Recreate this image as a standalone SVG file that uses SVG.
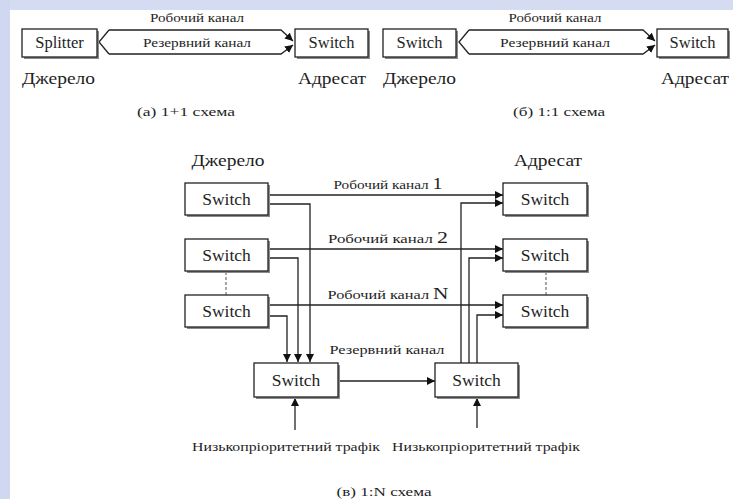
<svg xmlns="http://www.w3.org/2000/svg" width="733" height="499" viewBox="0 0 733 499" font-family="'Liberation Serif','DejaVu Serif','Times New Roman',serif">
<defs>
<marker id="ah" viewBox="0 0 10 10" refX="10" refY="5" markerWidth="8" markerHeight="8" markerUnits="userSpaceOnUse" orient="auto"><path d="M0,0 L10,5 L0,10 z" fill="#111"/></marker>
<style>
text{font-family:'Liberation Serif','DejaVu Serif','Times New Roman',serif;fill:#1e1e1e}
.box{fill:#fff;stroke:#222;stroke-width:1.3}
.sh{fill:#8a8a8a}
.ln{fill:none;stroke:#222;stroke-width:1.3}
.arr{fill:none;stroke:#222;stroke-width:1.3;marker-end:url(#ah)}
.dash{fill:none;stroke:#555;stroke-width:1;stroke-dasharray:3,2}
.bl{font-size:16.5px;text-anchor:middle}
.bb{font-size:17.5px;text-anchor:middle}
.sm{font-size:13px}
.lb{font-size:17px}
.c{text-anchor:middle}
</style>
</defs>
<rect x="0" y="0" width="733" height="499" fill="#fff"/>
<rect x="0" y="0" width="733" height="10" fill="#d5dcf2"/>
<rect x="0" y="0" width="10" height="499" fill="#cfd8f0"/>

<g id="connectors">
<path class="ln" d="M109,30 L99,42 L109,54"/>
<path class="arr" d="M109,30 L281,30 L293,41"/>
<path class="arr" d="M109,54 L281,54 L293,45"/>
<path class="ln" d="M469,30 L459,42 L469,54"/>
<path class="arr" d="M469,30 L643,30 L655,41"/>
<path class="arr" d="M469,54 L643,54 L655,45"/>
<path class="arr" d="M268,195 L503,195"/>
<path class="arr" d="M268,249 L503,249"/>
<path class="arr" d="M268,305 L503,305"/>
<path class="arr" d="M268,204 L310,204 L310,362"/>
<path class="arr" d="M268,258 L298,258 L298,362"/>
<path class="arr" d="M268,316 L287,316 L287,362"/>
<path class="arr" d="M461,363 L461,203 L503,203"/>
<path class="arr" d="M469,363 L469,258 L503,258"/>
<path class="arr" d="M477,363 L477,315 L503,315"/>
<path class="arr" d="M338,381 L435,381"/>
<path class="arr" d="M295,430 L295,398"/>
<path class="arr" d="M477,428 L477,398"/>
<path class="dash" d="M226,272 L226,295"/>
<path class="dash" d="M546,272 L546,295"/>
</g>

<g id="a-splitter">
<rect class="sh" x="24" y="31" width="75" height="28"/>
<rect class="box" x="22" y="29" width="75" height="28"/>
<text class="bl" x="59.5" y="48">Splitter</text>
</g>
<g id="a-switch">
<rect class="sh" x="297" y="31" width="73" height="28"/>
<rect class="box" x="295" y="29" width="73" height="28"/>
<text class="bl" x="331.5" y="48">Switch</text>
</g>
<g id="b-switch-src">
<rect class="sh" x="385" y="31" width="73" height="28"/>
<rect class="box" x="383" y="29" width="73" height="28"/>
<text class="bl" x="419.5" y="48">Switch</text>
</g>
<g id="b-switch-dst">
<rect class="sh" x="659" y="31" width="71" height="28"/>
<rect class="box" x="657" y="29" width="71" height="28"/>
<text class="bl" x="692.5" y="48">Switch</text>
</g>

<g id="c-src1">
<rect class="sh" x="187" y="185" width="83" height="32"/>
<rect class="box" x="185" y="183" width="83" height="32"/>
<text class="bb" x="226.5" y="205">Switch</text>
</g>
<g id="c-src2">
<rect class="sh" x="187" y="241" width="83" height="32"/>
<rect class="box" x="185" y="239" width="83" height="32"/>
<text class="bb" x="226.5" y="261">Switch</text>
</g>
<g id="c-srcN">
<rect class="sh" x="187" y="297" width="83" height="32"/>
<rect class="box" x="185" y="295" width="83" height="32"/>
<text class="bb" x="226.5" y="317">Switch</text>
</g>
<g id="c-dst1">
<rect class="sh" x="505" y="185" width="84" height="32"/>
<rect class="box" x="503" y="183" width="84" height="32"/>
<text class="bb" x="545" y="205">Switch</text>
</g>
<g id="c-dst2">
<rect class="sh" x="505" y="241" width="84" height="32"/>
<rect class="box" x="503" y="239" width="84" height="32"/>
<text class="bb" x="545" y="261">Switch</text>
</g>
<g id="c-dstN">
<rect class="sh" x="505" y="297" width="84" height="32"/>
<rect class="box" x="503" y="295" width="84" height="32"/>
<text class="bb" x="545" y="317">Switch</text>
</g>
<g id="c-res-src">
<rect class="sh" x="256" y="365" width="84" height="34"/>
<rect class="box" x="254" y="363" width="84" height="34"/>
<text class="bb" x="296" y="386">Switch</text>
</g>
<g id="c-res-dst">
<rect class="sh" x="437" y="365" width="83" height="34"/>
<rect class="box" x="435" y="363" width="83" height="34"/>
<text class="bb" x="476.5" y="386">Switch</text>
</g>

<g id="labels">
<text class="sm c" x="197" y="22" textLength="94" lengthAdjust="spacingAndGlyphs">Робочий канал</text>
<text class="sm c" x="197" y="47" textLength="108" lengthAdjust="spacingAndGlyphs">Резервний канал</text>
<text class="lb" x="22" y="84" textLength="73" lengthAdjust="spacingAndGlyphs">Джерело</text>
<text class="lb" x="298" y="84" textLength="68" lengthAdjust="spacingAndGlyphs">Адресат</text>
<text class="sm c" x="186" y="116" textLength="98" lengthAdjust="spacingAndGlyphs">(а) 1+1 схема</text>

<text class="sm c" x="555" y="22" textLength="93" lengthAdjust="spacingAndGlyphs">Робочий канал</text>
<text class="sm c" x="555" y="47" textLength="110" lengthAdjust="spacingAndGlyphs">Резервний канал</text>
<text class="lb" x="383" y="84" textLength="73" lengthAdjust="spacingAndGlyphs">Джерело</text>
<text class="lb" x="661" y="84" textLength="68" lengthAdjust="spacingAndGlyphs">Адресат</text>
<text class="sm c" x="559" y="116" textLength="92" lengthAdjust="spacingAndGlyphs">(б) 1:1 схема</text>

<text class="lb c" x="228" y="166" textLength="73" lengthAdjust="spacingAndGlyphs">Джерело</text>
<text class="lb c" x="548" y="166" textLength="68" lengthAdjust="spacingAndGlyphs">Адресат</text>
<text class="sm c" x="388" y="189" textLength="109" lengthAdjust="spacingAndGlyphs">Робочий канал <tspan font-size="17">1</tspan></text>
<text class="sm c" x="388" y="243" textLength="120" lengthAdjust="spacingAndGlyphs">Робочий канал <tspan font-size="17">2</tspan></text>
<text class="sm c" x="388" y="299" textLength="121" lengthAdjust="spacingAndGlyphs">Робочий канал <tspan font-size="17">N</tspan></text>
<text class="sm c" x="387" y="354" textLength="115" lengthAdjust="spacingAndGlyphs">Резервний канал</text>
<text class="sm c" x="286" y="451" textLength="188" lengthAdjust="spacingAndGlyphs">Низькопріоритетний трафік</text>
<text class="sm c" x="486" y="451" textLength="188" lengthAdjust="spacingAndGlyphs">Низькопріоритетний трафік</text>
<text class="sm c" x="384" y="496" textLength="95" lengthAdjust="spacingAndGlyphs">(в) 1:N схема</text>
</g>
</svg>
